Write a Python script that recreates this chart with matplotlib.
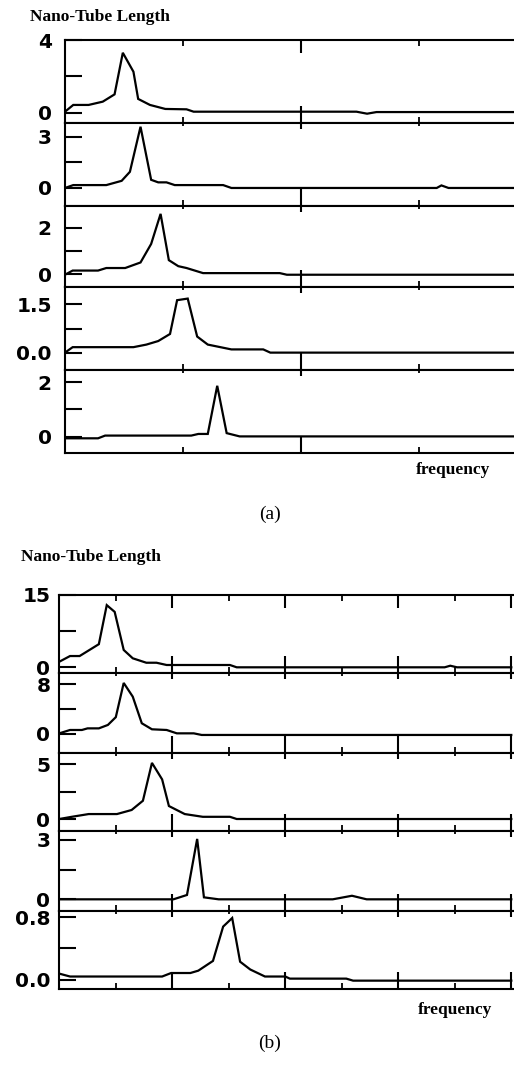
import matplotlib
matplotlib.use("Agg")
import matplotlib.pyplot as plt
from matplotlib.ticker import FixedLocator

W, H = 514, 1066

# ---------------- data ----------------
a1_x = [0, 0.07, 0.2, 0.32, 0.42, 0.49, 0.58, 0.62, 0.72, 0.85, 1.03, 1.09, 2.47, 2.56, 2.64, 3.8]
a1_y = [0.07, 0.44, 0.44, 0.62, 1.02, 3.3, 2.26, 0.77, 0.44, 0.22, 0.2, 0.07, 0.07, -0.04, 0.05, 0.05]
a2_x = [0, 0.07, 0.35, 0.48, 0.55, 0.64, 0.73, 0.79, 0.86, 0.93, 1.34, 1.41, 3.15, 3.19, 3.25, 3.8]
a2_y = [0, 0.17, 0.17, 0.42, 0.95, 3.6, 0.48, 0.33, 0.33, 0.17, 0.17, 0, 0, 0.15, 0, 0]
a3_x = [0, 0.065, 0.28, 0.35, 0.51, 0.64, 0.73, 0.81, 0.88, 0.96, 1.03, 1.17, 1.82, 1.88, 3.8]
a3_y = [-0.03, 0.15, 0.15, 0.26, 0.26, 0.5, 1.3, 2.6, 0.6, 0.34, 0.26, 0.04, 0.04, -0.03, -0.03]
a4_x = [0, 0.065, 0.58, 0.69, 0.79, 0.89, 0.95, 1.04, 1.12, 1.21, 1.41, 1.68, 1.74, 3.8]
a4_y = [0, 0.17, 0.17, 0.25, 0.36, 0.58, 1.63, 1.68, 0.5, 0.25, 0.1, 0.1, 0, 0]
a5_x = [0, 0.28, 0.34, 1.07, 1.13, 1.21, 1.29, 1.37, 1.48, 3.8]
a5_y = [-0.06, -0.06, 0.04, 0.04, 0.1, 0.1, 1.87, 0.13, 0.01, 0.01]

b1_x = [0, 0.095, 0.18, 0.35, 0.42, 0.49, 0.57, 0.65, 0.77, 0.86, 0.95, 1.51, 1.57, 3.41, 3.46, 3.52, 4.0]
b1_y = [1.16, 2.34, 2.34, 4.8, 12.9, 11.5, 3.6, 1.87, 0.95, 0.95, 0.48, 0.48, 0, 0, 0.33, 0, 0]
b2_x = [0, 0.095, 0.2, 0.25, 0.35, 0.43, 0.5, 0.57, 0.65, 0.73, 0.82, 0.95, 1.04, 1.19, 1.26, 4.0]
b2_y = [0.1, 0.64, 0.64, 0.9, 0.9, 1.45, 2.7, 8.2, 6.0, 1.72, 0.75, 0.64, 0.1, 0.1, -0.16, -0.16]
b3_x = [0, 0.11, 0.26, 0.51, 0.64, 0.74, 0.82, 0.91, 0.97, 1.11, 1.27, 1.51, 1.57, 4.0]
b3_y = [0, 0.2, 0.45, 0.45, 0.82, 1.66, 5.1, 3.6, 1.18, 0.45, 0.2, 0.2, 0, 0]
b4_x = [0, 1.01, 1.13, 1.22, 1.28, 1.41, 2.42, 2.59, 2.72, 4.0]
b4_y = [0, 0, 0.22, 3.05, 0.1, 0, 0, 0.18, 0, 0]
b5_x = [0, 0.095, 0.91, 0.99, 1.16, 1.23, 1.36, 1.45, 1.53, 1.6, 1.69, 1.82, 2.0, 2.04, 2.54, 2.6, 4.0]
b5_y = [0.077, 0.04, 0.04, 0.085, 0.085, 0.115, 0.24, 0.68, 0.79, 0.23, 0.13, 0.04, 0.04, 0.013, 0.013, -0.013, -0.013]

a_series = [(a1_x, a1_y), (a2_x, a2_y), (a3_x, a3_y), (a4_x, a4_y), (a5_x, a5_y)]
b_series = [(b1_x, b1_y), (b2_x, b2_y), (b3_x, b3_y), (b4_x, b4_y), (b5_x, b5_y)]

a_yticks = [[0, 2, 4], [0, 1.5, 3], [0, 1, 2], [0, 0.75, 1.5], [0, 1, 2]]
a_ylabels = [["0", "", "4"], ["0", "", "3"], ["0", "", "2"], ["0.0", "", "1.5"], ["0", "", "2"]]
a_ylims = [(-0.55, 4.0), (-1.06, 3.82), (-0.56, 2.94), (-0.54, 2.04), (-0.6, 2.45)]

b_yticks = [[0, 7.5, 15], [0, 4, 8], [0, 2.5, 5], [0, 1.5, 3], [0, 0.4, 0.8]]
b_ylabels = [["0", "", "15"], ["0", "", "8"], ["0", "", "5"], ["0", "", "3"], ["0.0", "", "0.8"]]
b_ylims = [(-1.18, 15.0), (-3.06, 9.8), (-1.09, 6.0), (-0.59, 3.45), (-0.12, 0.88)]

title_text = "Nano-Tube Length"
xlabel_text = "frequency"

# ---------------- layout (pixels) ----------------
a_left, a_xmax = 65, 3.805
a_bounds = [40, 123, 206, 287, 370, 453]
b_left, b_xmax = 59.3, 4.024
b_bounds = [595, 673, 753, 831, 911, 989]

fig = plt.figure(figsize=(W / 100, H / 100), dpi=100)
fig.patch.set_facecolor("white")

LW = 1.6
SPW = 1.5


def make_panel(left, xmax, top, bottom, xs, ys, yt, yl, ylim, major, minor,
               first, top_major_len, pad):
    ax = fig.add_axes([left / W, 1 - bottom / H, (W - left) / W, (bottom - top) / H])
    ax.plot(xs, ys, color="black", lw=LW, solid_joinstyle="miter")
    ax.set_xlim(0, xmax)
    ax.set_ylim(*ylim)
    ax.spines["right"].set_visible(False)
    for s in ("left", "bottom", "top"):
        ax.spines[s].set_linewidth(SPW)
    ax.set_yticks(yt)
    ax.set_yticklabels(yl)
    ax.xaxis.set_major_locator(FixedLocator(major))
    ax.xaxis.set_minor_locator(FixedLocator(minor))
    ax.set_xticklabels([])
    ax.tick_params(axis="y", direction="in", length=12, width=1.5, pad=pad,
                   labelsize=14.5)
    for lab in ax.get_yticklabels():
        lab.set_fontweight("bold")
        lab.set_family("DejaVu Sans")
    ax.tick_params(axis="x", which="major", direction="in", length=12, width=1.5,
                   top=True, bottom=True)
    ax.tick_params(axis="x", which="minor", direction="in", length=4, width=1.3,
                   top=True, bottom=True)
    for t in ax.xaxis.get_major_ticks():
        t.tick2line.set_markersize(top_major_len if first else 4)
    for t in ax.xaxis.get_minor_ticks():
        t.tick2line.set_markersize(4 if first else 2)
    return ax


for i in range(5):
    xs, ys = a_series[i]
    make_panel(a_left, a_xmax, a_bounds[i], a_bounds[i + 1], xs, ys,
               a_yticks[i], a_ylabels[i], a_ylims[i], [2], [1, 3], i == 0, 9, 9.5)

for i in range(5):
    xs, ys = b_series[i]
    make_panel(b_left, b_xmax, b_bounds[i], b_bounds[i + 1], xs, ys,
               b_yticks[i], b_ylabels[i], b_ylims[i], [1, 2, 3, 4],
               [0.5, 1.5, 2.5, 3.5], i == 0, 9, 6.5)

serif = ["Liberation Serif", "DejaVu Serif"]
fig.text(30 / W, 1 - 17 / H, title_text, family=serif, fontweight="bold",
         fontsize=12.5, ha="left", va="center")
fig.text(21 / W, 1 - 557 / H, title_text, family=serif, fontweight="bold",
         fontsize=12.5, ha="left", va="center")
fig.text(453 / W, 1 - 470 / H, xlabel_text, family=serif, fontweight="bold",
         fontsize=12.5, ha="center", va="center")
fig.text(455 / W, 1 - 1010 / H, xlabel_text, family=serif, fontweight="bold",
         fontsize=12.5, ha="center", va="center")
fig.text(270 / W, 1 - 514 / H, "(a)", family=serif, fontsize=14,
         ha="center", va="center")
fig.text(270 / W, 1 - 1043 / H, "(b)", family=serif, fontsize=14,
         ha="center", va="center")

fig.savefig("out.png", dpi=100, facecolor="white")
